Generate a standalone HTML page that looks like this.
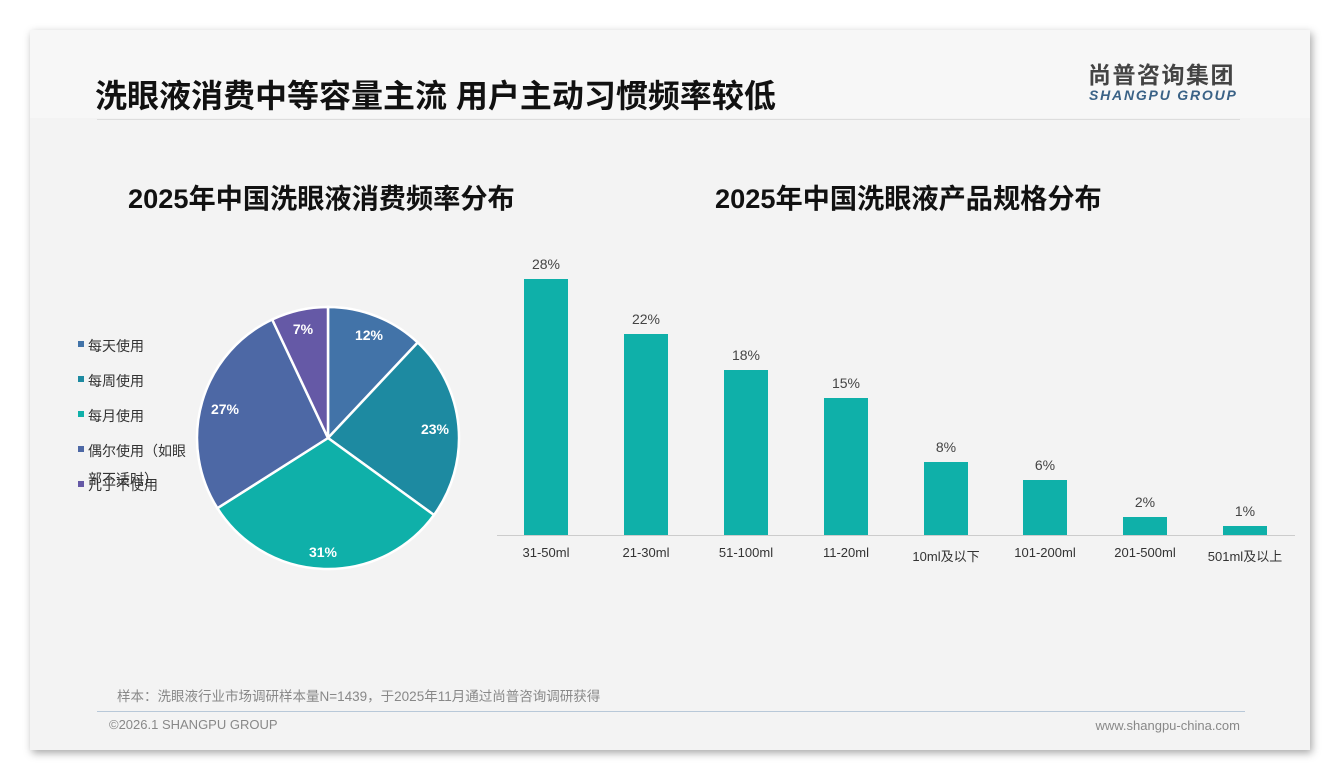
<!DOCTYPE html>
<html><head><meta charset="utf-8"><style>
body{margin:0;width:1340px;height:780px;background:#fff;font-family:"Liberation Sans","Noto Sans CJK SC",sans-serif;overflow:hidden}
.slide{position:absolute;left:30px;top:30px;width:1280px;height:720px;background:#f3f3f3;box-shadow:2px 3px 8px rgba(0,0,0,.35)}
.t{position:absolute;white-space:nowrap}
</style></head><body>
<div class="slide"></div>
<div style="position:absolute;left:30px;top:30px;width:1280px;height:88px;background:#f7f7f7"></div>
<div class="t" style="left:95px;top:76px;font-size:32px;line-height:40px;font-weight:bold;color:#111">洗眼液消费中等容量主流 用户主动习惯频率较低</div>
<div style="position:absolute;left:97px;top:119px;width:1143px;height:1px;background:#ddd"></div>
<div class="t" style="left:1088px;top:60px;font-size:23px;line-height:30px;letter-spacing:1.5px;font-weight:bold;color:#444">尚普咨询集团</div>
<div class="t" style="left:1089px;top:87px;font-size:14px;font-weight:bold;font-style:italic;color:#3a6286;letter-spacing:1.8px">SHANGPU GROUP</div>
<div class="t" style="left:128px;top:176px;font-size:27.2px;font-weight:bold;color:#111">2025年中国洗眼液消费频率分布</div>
<div class="t" style="left:715px;top:176px;font-size:27.2px;font-weight:bold;color:#111">2025年中国洗眼液产品规格分布</div>
<svg width="1340" height="780" style="position:absolute;left:0;top:0" font-family="Liberation Sans,Noto Sans CJK SC,sans-serif">
<g stroke="#fff" stroke-width="2.5">
<path d="M328,438 L328,307 A131,131 0 0 1 417.7,342.5Z" fill="#4273a8"/>
<path d="M328,438 L417.7,342.5 A131,131 0 0 1 434,515Z" fill="#1d8aa1"/>
<path d="M328,438 L434,515 A131,131 0 0 1 217.4,508.2Z" fill="#0fb0a9"/>
<path d="M328,438 L217.4,508.2 A131,131 0 0 1 272.2,319.5Z" fill="#4d68a5"/>
<path d="M328,438 L272.2,319.5 A131,131 0 0 1 328,307Z" fill="#6559a6"/>
</g>
<g fill="#fff" font-size="14" font-weight="bold" text-anchor="middle">
<text x="369" y="340">12%</text><text x="435" y="434">23%</text><text x="323" y="557">31%</text><text x="225" y="414">27%</text><text x="303" y="334">7%</text>
</g>
<g font-size="14" fill="#333">
<rect x="78" y="341" width="6" height="6" fill="#4273a8"/><text x="88" y="351">每天使用</text>
<rect x="78" y="376" width="6" height="6" fill="#1d8aa1"/><text x="88" y="386">每周使用</text>
<rect x="78" y="411" width="6" height="6" fill="#0fb0a9"/><text x="88" y="421">每月使用</text>
<rect x="78" y="446" width="6" height="6" fill="#4d68a5"/><text x="88" y="456">偶尔使用（如眼</text>
<text x="88" y="484">部不适时）</text>
<rect x="78" y="481" width="6" height="6" fill="#6559a6"/><text x="88" y="490">几乎不使用</text>
</g>
<line x1="497" y1="535.5" x2="1295" y2="535.5" stroke="#ccc"/>
<g fill="#0fb0a9">
<rect x="524" y="279" width="44" height="256"/><rect x="624" y="334" width="44" height="201"/>
<rect x="724" y="370" width="44" height="165"/><rect x="824" y="398" width="44" height="137"/>
<rect x="924" y="462" width="44" height="73"/><rect x="1023" y="480" width="44" height="55"/>
<rect x="1123" y="517" width="44" height="18"/><rect x="1223" y="526" width="44" height="9"/>
</g>
<g font-size="14" fill="#444" text-anchor="middle">
<text x="546" y="269">28%</text><text x="646" y="324">22%</text><text x="746" y="360">18%</text><text x="846" y="388">15%</text>
<text x="946" y="452">8%</text><text x="1045" y="470">6%</text><text x="1145" y="507">2%</text><text x="1245" y="516">1%</text>
</g>
<g font-size="13" fill="#333" text-anchor="middle">
<text x="546" y="557">31-50ml</text><text x="646" y="557">21-30ml</text><text x="746" y="557">51-100ml</text><text x="846" y="557">11-20ml</text>
<text x="946" y="561">10ml及以下</text><text x="1045" y="557">101-200ml</text><text x="1145" y="557">201-500ml</text><text x="1245" y="561">501ml及以上</text>
</g>
<line x1="97" y1="711.5" x2="1245" y2="711.5" stroke="#b8c8d8"/>
<g fill="#888">
<text x="117" y="701" font-size="13.5">样本：洗眼液行业市场调研样本量N=1439，于2025年11月通过尚普咨询调研获得</text>
<text x="109" y="729" font-size="13">©2026.1 SHANGPU GROUP</text>
<text x="1240" y="730" font-size="13" text-anchor="end">www.shangpu-china.com</text>
</g>
</svg>
</body></html>
